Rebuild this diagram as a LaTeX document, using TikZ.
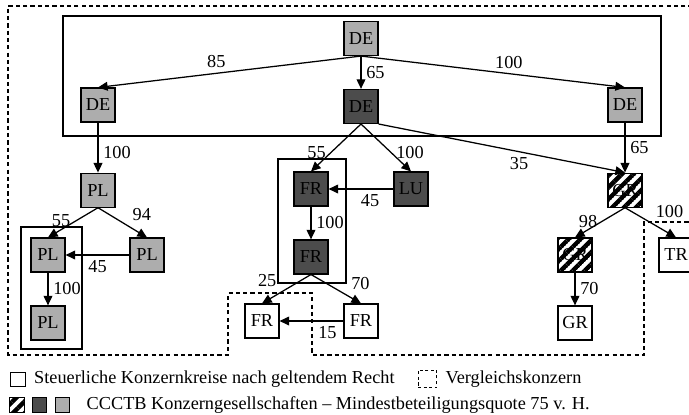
\documentclass[tikz,border=0pt]{standalone}
\usepackage{fontspec}
\setmainfont{Liberation Serif}
\usepackage{tikz}
\usetikzlibrary{arrows.meta, positioning, patterns.meta}

\definecolor{lightgrey}{gray}{0.68}
\definecolor{darkgrey}{gray}{0.3}

\tikzdeclarepattern{
  name=widehatch,
  type=uncolored,
  bounding box={(0pt,-1.6pt) and (6pt,1.6pt)},
  tile size={(6pt,6pt)},
  tile transformation={rotate=45},
  code={\draw[line width=3.2pt] (0pt,0pt) -- (6pt,0pt);}
}

\begin{document}
\begin{tikzpicture}[
    x=0.025cm, y=-0.025cm,
    font=\fontsize{13}{15}\selectfont,
    node distance=0.82cm,
    firm/.style={rectangle, draw, line width=0.8pt, minimum size=0.85cm, inner sep=0pt},
    lightbox/.style={firm, fill=lightgrey},
    darkbox/.style={firm, fill=darkgrey},
    hatchbox/.style={firm, pattern=widehatch},
    kreis/.style={draw, line width=0.8pt},
    vergleich/.style={draw, line width=0.8pt, dash pattern=on 3pt off 2.2pt},
    arrow/.style={line width=0.9pt, -{Triangle[length=2.4mm, width=2.2mm]}},
    legbox/.style={rectangle, draw, line width=0.7pt, minimum size=0.37cm, inner sep=0pt},
    legtext/.style={inner sep=0pt, anchor=west}
]
    \useasboundingbox (0,0) rectangle (689,414);

    % comparison group (dashed) and tax groups (solid)
    \draw[vergleich] (700,6) -- (8,6) -- (8,355) -- (228,355) -- (228,293) -- (312,293)
        -- (312,355) -- (644,355) -- (644,222) -- (700,222);
    \draw[kreis] (63,16) rectangle (661,136);
    \draw[kreis] (21,227) rectangle (82,349);
    \draw[kreis] (278,159) rectangle (346,283);

    % Germany
    \node[lightbox] (root) at (361,38.5) {DE};
    \node[darkbox, below=of root] (deM) {DE};
    \node[lightbox] (deL) at (98,105) {DE};
    \node[lightbox] (deR) at (625,105) {DE};

    % Poland
    \node[lightbox, below=1.25cm of deL] (plA) {PL};
    \node[lightbox] (plL) at (48,255) {PL};
    \node[lightbox] (plR) at (147,255) {PL};
    \node[lightbox, below=of plL] (plB) {PL};

    % France and Luxembourg
    \node[darkbox] (frA) at (311,189) {FR};
    \node[darkbox] (lu) at (411,189) {LU};
    \node[darkbox, below=of frA] (frB) {FR};
    \node[firm] (frL) at (262,321) {FR};
    \node[firm] (frR) at (361,321) {FR};

    % Greece and Turkey
    \node[hatchbox, below=1.25cm of deR] (grA) {GR};
    \node[hatchbox] (grB) at (575,255) {GR};
    \node[firm, below=of grB] (grC) {GR};
    \node[firm] (tr) at (676,255) {TR};

    % Holdings
    \draw[arrow] (root.south) -- node[pos=.55, above] {85} (deL.north);
    \draw[arrow] (root.south) -- node[right] {65} (deM.north);
    \draw[arrow] (root.south) -- node[pos=.56, above] {100} (deR.north);
    \draw[arrow] (deL) -- node[pos=.6, right] {100} (plA);
    \draw[arrow] (plA.south) -- node[pos=.45, left] {55} (plL.north);
    \draw[arrow] (plA.south) -- node[pos=.6, above right] {94} (plR.north);
    \draw[arrow] (plR) -- node[below] {45} (plL);
    \draw[arrow] (plL) -- node[right] {100} (plB);
    \draw[arrow] (deM.south) -- node[pos=.6, left] {55} (frA.north);
    \draw[arrow] (deM.south) -- node[pos=.6, right] {100} (lu.north);
    \draw[arrow] (deM.south east) -- node[pos=.57, below] {35} (grA.north);
    \draw[arrow] (deR) -- node[right] {65} (grA);
    \draw[arrow] (lu) -- node[pos=.36, below] {45} (frA);
    \draw[arrow] (frA) -- node[right] {100} (frB);
    \draw[arrow] (frB.south) -- node[pos=.6, above left] {25} (frL.north);
    \draw[arrow] (frB.south) -- node[pos=.7, above right] {70} (frR.north);
    \draw[arrow] (frR) -- node[pos=.25, below] {15} (frL);
    \draw[arrow] (grA.south) -- node[pos=.45, left] {98} (grB.north);
    \draw[arrow] (grA.south) -- node[pos=.5, above right] {100} (tr.north);
    \draw[arrow] (grB) -- node[right] {70} (grC);

    % Legend
    \node[legbox] (legW) at (18,379.5) {};
    \node[legtext, right=0.2cm of legW] (legWtext) {Steuerliche Konzernkreise nach geltendem Recht};
    \node[legbox, dash pattern=on 2.2pt off 1.8pt, minimum width=0.47cm, minimum height=0.44cm] (legV) at (427.5,379) {};
    \node[legtext, right=0.2cm of legV] (legVtext) {Vergleichskonzern};
    \node[legbox, pattern=widehatch] (legH) at (17,405) {};
    \node[legbox, fill=darkgrey] (legD) at (39.5,405) {};
    \node[legbox, fill=lightgrey] (legL) at (62.5,405) {};
    \node[legtext, right=0.4cm of legL] (legLtext) {CCCTB Konzerngesellschaften – Mindestbeteiligungsquote 75 v. H.};
\end{tikzpicture}
\end{document}
